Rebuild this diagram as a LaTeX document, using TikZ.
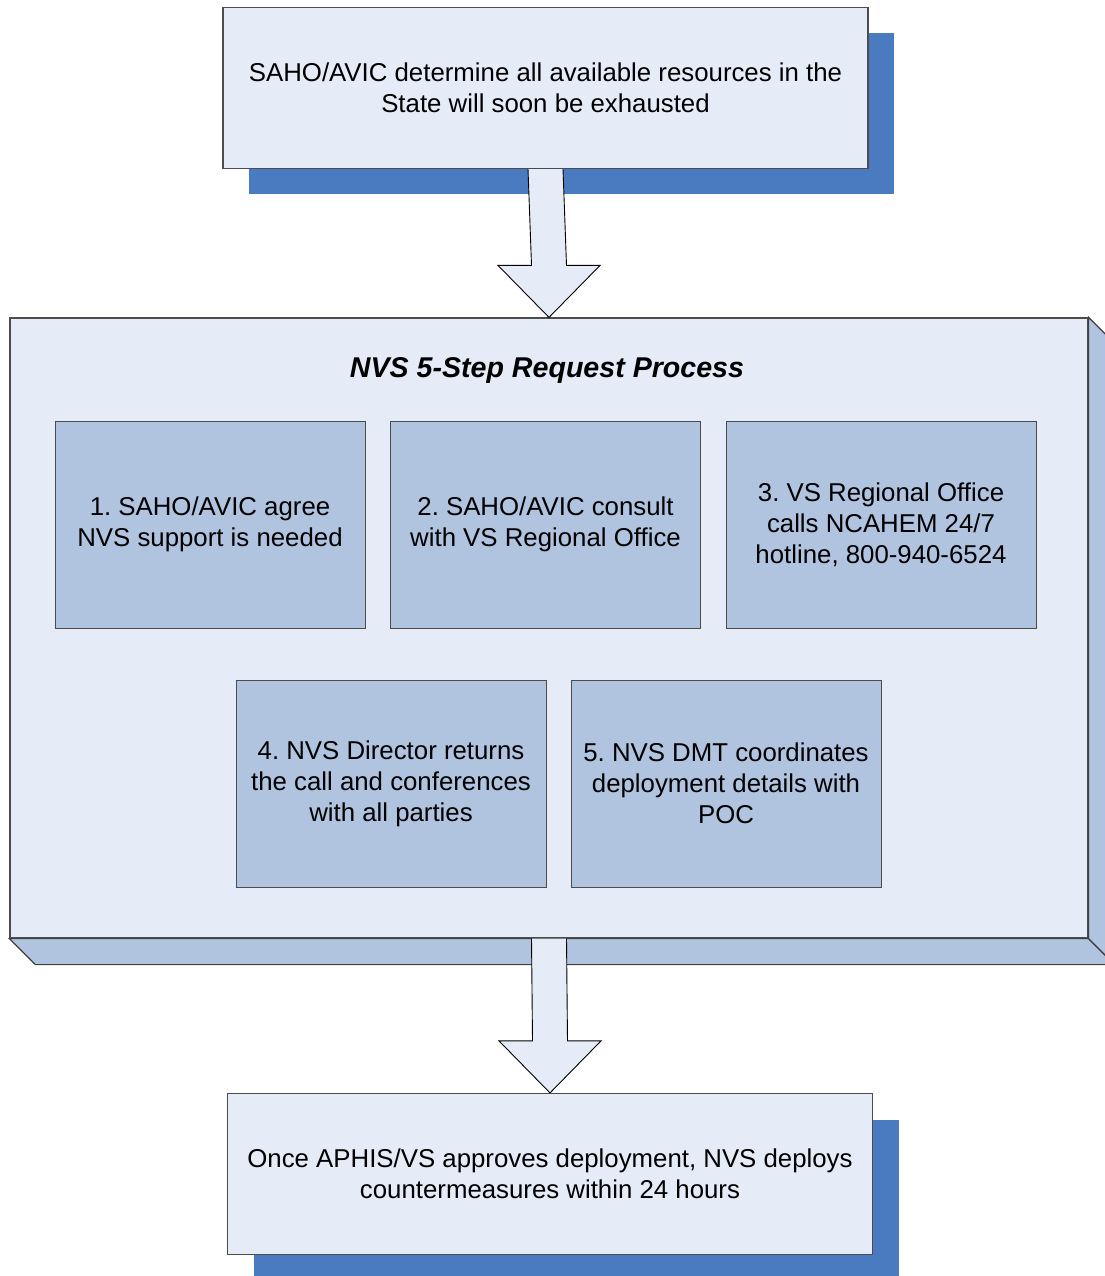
\documentclass[tikz,border=0pt]{standalone}
\usepackage{fontspec}
\setmainfont{Liberation Sans}
\usetikzlibrary{calc,shadows}
\frenchspacing

\definecolor{facelight}{HTML}{E6ECF7}
\definecolor{facemid}{HTML}{B0C3DF}
\definecolor{shadowblue}{HTML}{4A7BC1}

\begin{document}
\begin{tikzpicture}[x=1pt, y=-1pt,
  mainbox/.style={rectangle, draw=black!70, line width=1.2pt, fill=facelight,
    minimum width=645pt, minimum height=161pt, align=center,
    font=\fontsize{25.8}{31}\selectfont,
    drop shadow={shadow xshift=26pt, shadow yshift=-26pt, fill=shadowblue, opacity=1}},
  stepbox/.style={rectangle, draw=black!70, line width=0.9pt, fill=facemid,
    minimum width=310pt, minimum height=207pt, align=center,
    font=\fontsize{25.8}{31}\selectfont},
  blockarrow/.style={draw=black, line width=0.9pt, fill=facelight, line join=miter},
  sideface/.style={draw=black!75, line width=1.2pt, fill=facemid, line join=miter}]
\useasboundingbox (0,0) rectangle (1104,1276);

\node[mainbox] (start) at (545.5,88) {SAHO/AVIC determine all available resources in the\\State will soon be exhausted};

% big 5-step box with depth
\node[rectangle, draw=black!70, line width=1.2pt, fill=facelight,
  minimum width=1078pt, minimum height=620pt] (proc) at (549,628) {};
\draw[sideface] (proc.south west) -- ++(26,26) -- ($(proc.south east)+(26,26)$) -- (proc.south east) -- cycle;
\draw[sideface] (proc.north east) -- ++(26,26) -- ($(proc.south east)+(26,26)$) -- (proc.south east) -- cycle;

\node (title) at (547,370) {\fontsize{28.6}{34}\selectfont\bfseries\itshape NVS 5-Step Request Process};

\node[stepbox] (step1) at (210,524.5) {1. SAHO/AVIC agree\\NVS support is needed};
\node[stepbox] (step2) at (545.5,524.5) {2. SAHO/AVIC consult\\with VS Regional Office};
\node[stepbox] (step3) at (881,524.5) {3. VS Regional Office\\calls NCAHEM 24/7\\hotline, 800-940-6524};
\node[stepbox] (step4) at (391,783.5) {4. NVS Director returns\\the call and conferences\\with all parties};
\node[stepbox] (step5) at (726,783.5) {5. NVS DMT coordinates\\deployment details with\\POC};

\node[mainbox] (finish) at (550,1174) {Once APHIS/VS approves deployment, NVS deploys\\countermeasures within 24 hours};

% block arrows
\draw[blockarrow] ($(start.south)+(-17.5,0)$) -- ($(proc.north)+(-17.5,-52)$) -- ($(proc.north)+(-51,-52)$)
  -- (proc.north) -- ($(proc.north)+(51,-52)$) -- ($(proc.north)+(17.5,-52)$) -- ($(start.south)+(17.5,0)$);
\draw[blockarrow] ($(proc.south)+(-17.5,0)$) -- ($(finish.north)+(-17.5,-52)$) -- ($(finish.north)+(-51,-52)$)
  -- (finish.north) -- ($(finish.north)+(51,-52)$) -- ($(finish.north)+(17.5,-52)$) -- ($(proc.south)+(17.5,0)$);

\end{tikzpicture}
\end{document}
